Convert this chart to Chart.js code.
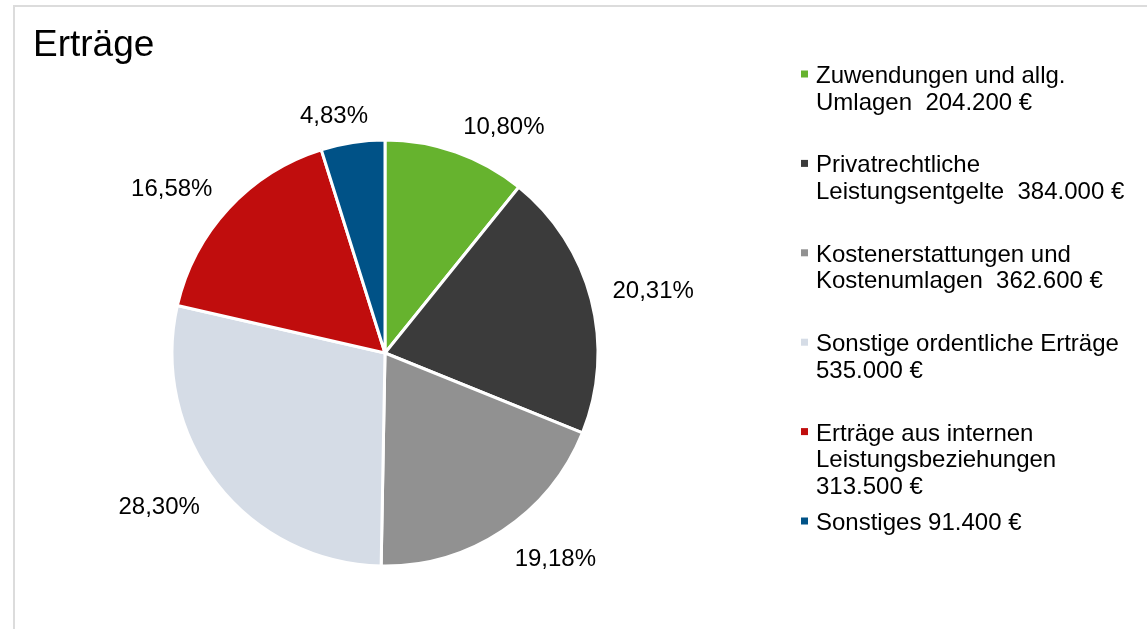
<!DOCTYPE html>
<html lang="de">
<head>
<meta charset="utf-8">
<title>Erträge</title>
<script src="https://cdn.jsdelivr.net/npm/chart.js@4/dist/chart.umd.min.js"></script>
<style>
  html, body { margin: 0; padding: 0; background: #fff; }
  canvas { display: block; }
</style>
</head>
<body>
<canvas id="ertraegeChart" width="1147" height="629"></canvas>
<script>
// Daten
const chartTitle = 'Erträge';
const categories = [
    ['Zuwendungen und allg.', 'Umlagen  204.200 €'],
    ['Privatrechtliche', 'Leistungsentgelte  384.000 €'],
    ['Kostenerstattungen und', 'Kostenumlagen  362.600 €'],
    ['Sonstige ordentliche Erträge', '535.000 €'],
    ['Erträge aus internen', 'Leistungsbeziehungen', '313.500 €'],
    ['Sonstiges 91.400 €']
];
const values = [204200, 384000, 362600, 535000, 313500, 91400];
const colors = ['#66b32e', '#3b3b3b', '#919191', '#d5dce6', '#c00d0d', '#005287'];

const FONT = '"Liberation Sans", Arial, sans-serif';

// Rahmen, Titel, Prozentwerte und Legende zeichnen
const dekoPlugin = {
    id: 'deko',
    beforeDraw(chart) {
        const ctx = chart.ctx;
        ctx.save();
        ctx.strokeStyle = '#dcdcdc';
        ctx.lineWidth = 2;
        ctx.beginPath();
        ctx.moveTo(14, chart.height);
        ctx.lineTo(14, 6);
        ctx.lineTo(chart.width, 6);
        ctx.stroke();

        ctx.fillStyle = '#000';
        ctx.font = '37px ' + FONT;
        ctx.textBaseline = 'alphabetic';
        ctx.fillText(chartTitle, 33, 56);
        ctx.restore();
    },
    afterDatasetsDraw(chart) {
        const ctx = chart.ctx;
        const data = chart.data.datasets[0].data;
        const total = data.reduce((a, b) => a + b, 0);
        const clamp = v => Math.max(-1, Math.min(1, v));
        ctx.save();
        ctx.font = '24px ' + FONT;
        ctx.fillStyle = '#000';
        ctx.textAlign = 'center';
        ctx.textBaseline = 'middle';
        chart.getDatasetMeta(0).data.forEach((arc, i) => {
            const p = arc.getProps(['x', 'y', 'startAngle', 'endAngle', 'outerRadius'], true);
            const mid = (p.startAngle + p.endAngle) / 2;
            const txt = (data[i] / total * 100).toFixed(2).replace('.', ',') + '%';
            const w = ctx.measureText(txt).width;
            const h = 14;
            const r = p.outerRadius + 22;
            const cos = Math.cos(mid), sin = Math.sin(mid);
            const x = p.x + r * cos + clamp(3 * cos) * w / 2;
            const y = p.y + r * sin + clamp(3 * sin) * h / 2 + 3;
            ctx.fillText(txt, x, y);
        });
        ctx.restore();
    },
    afterDraw(chart) {
        const ctx = chart.ctx;
        const labels = chart.data.labels;
        const bg = chart.data.datasets[0].backgroundColor;
        ctx.save();
        ctx.font = '24px ' + FONT;
        ctx.textAlign = 'left';
        ctx.textBaseline = 'alphabetic';
        labels.forEach((lines, i) => {
            const base = 83 + i * 89.4;
            ctx.fillStyle = bg[i];
            ctx.fillRect(801, base - 12.5, 7, 7);
            ctx.fillStyle = '#000';
            lines.forEach((line, j) => {
                ctx.fillText(line, 816, base + j * 26.6);
            });
        });
        ctx.restore();
    }
};

new Chart(document.getElementById('ertraegeChart'), {
    type: 'pie',
    data: {
        labels: categories,
        datasets: [{
            data: values,
            backgroundColor: colors,
            borderColor: '#ffffff',
            borderWidth: 3
        }]
    },
    options: {
        responsive: false,
        animation: false,
        layout: {
            padding: { top: 138.5, bottom: 61.5, left: 170.5, right: 547.5 }
        },
        plugins: {
            legend: { display: false },
            title: { display: false },
            tooltip: { enabled: false }
        }
    },
    plugins: [dekoPlugin]
});
</script>
</body>
</html>
